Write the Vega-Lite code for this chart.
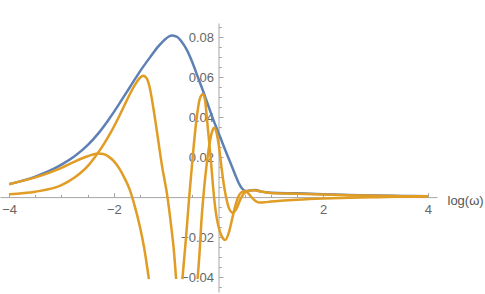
{
  "$schema": "https://vega.github.io/schema/vega-lite/v6.json",
  "width": 437,
  "height": 269,
  "autosize": {"type": "none"},
  "padding": {"left": 0, "top": 23, "right": 48, "bottom": 2},
  "background": "white",
  "config": {
    "view": {"stroke": null},
    "axis": {"grid": false, "labelFont": "Liberation Sans", "titleFont": "Liberation Sans", "labelFontSize": 13, "labelColor": "#666666", "domainColor": "#a6a6a6", "tickColor": "#a6a6a6", "tickWidth": 1, "domainWidth": 1}
  },
  "datasets": {
    "curves": [
      {"s":"E","seg":"E","x":-4.0,"y":0.0065},{"s":"E","seg":"E","x":-3.5,"y":0.0103},{"s":"E","seg":"E","x":-3.0,"y":0.0163},{"s":"E","seg":"E","x":-2.75,"y":0.0205},{"s":"E","seg":"E","x":-2.5,"y":0.026},{"s":"E","seg":"E","x":-2.3,"y":0.0318},{"s":"E","seg":"E","x":-2.1,"y":0.0388},{"s":"E","seg":"E","x":-1.9,"y":0.0466},{"s":"E","seg":"E","x":-1.7,"y":0.0548},{"s":"E","seg":"E","x":-1.5,"y":0.063},{"s":"E","seg":"E","x":-1.3,"y":0.0703},{"s":"E","seg":"E","x":-1.15,"y":0.0755},{"s":"E","seg":"E","x":-1.0,"y":0.0795},{"s":"E","seg":"E","x":-0.9,"y":0.081},{"s":"E","seg":"E","x":-0.8,"y":0.0804},{"s":"E","seg":"E","x":-0.7,"y":0.0777},{"s":"E","seg":"E","x":-0.6,"y":0.0735},{"s":"E","seg":"E","x":-0.5,"y":0.0675},{"s":"E","seg":"E","x":-0.4,"y":0.0605},{"s":"E","seg":"E","x":-0.3,"y":0.0535},{"s":"E","seg":"E","x":-0.2,"y":0.0462},{"s":"E","seg":"E","x":-0.1,"y":0.0388},{"s":"E","seg":"E","x":0.0,"y":0.0322},{"s":"E","seg":"E","x":0.1,"y":0.0255},{"s":"E","seg":"E","x":0.2,"y":0.019},{"s":"E","seg":"E","x":0.3,"y":0.0125},{"s":"E","seg":"E","x":0.4,"y":0.0064},{"s":"E","seg":"E","x":0.45,"y":0.0043},{"s":"E","seg":"E","x":0.52,"y":0.0031},{"s":"E","seg":"E","x":0.6,"y":0.0033},{"s":"E","seg":"E","x":0.7,"y":0.0036},{"s":"E","seg":"E","x":0.8,"y":0.0029},{"s":"E","seg":"E","x":0.9,"y":0.0024},{"s":"E","seg":"E","x":1.0,"y":0.0022},{"s":"E","seg":"E","x":1.5,"y":0.0019},{"s":"E","seg":"E","x":2.0,"y":0.0015},{"s":"E","seg":"E","x":2.5,"y":0.0011},{"s":"E","seg":"E","x":3.0,"y":0.0008},{"s":"E","seg":"E","x":3.5,"y":0.0006},{"s":"E","seg":"E","x":4.0,"y":0.0005},

      {"s":"A","seg":"A1","x":-4.0,"y":0.0065},{"s":"A","seg":"A1","x":-3.5,"y":0.0099},{"s":"A","seg":"A1","x":-3.0,"y":0.0147},{"s":"A","seg":"A1","x":-2.75,"y":0.0178},{"s":"A","seg":"A1","x":-2.5,"y":0.0205},{"s":"A","seg":"A1","x":-2.3,"y":0.0219},{"s":"A","seg":"A1","x":-2.2,"y":0.0216},{"s":"A","seg":"A1","x":-2.1,"y":0.0203},{"s":"A","seg":"A1","x":-2.0,"y":0.018},{"s":"A","seg":"A1","x":-1.9,"y":0.0145},{"s":"A","seg":"A1","x":-1.8,"y":0.0098},{"s":"A","seg":"A1","x":-1.7,"y":0.004},{"s":"A","seg":"A1","x":-1.6,"y":-0.0045},{"s":"A","seg":"A1","x":-1.5,"y":-0.015},{"s":"A","seg":"A1","x":-1.42,"y":-0.0255},{"s":"A","seg":"A1","x":-1.33,"y":-0.041},

      {"s":"A","seg":"A2","x":-0.69,"y":-0.041},{"s":"A","seg":"A2","x":-0.62,"y":-0.02},{"s":"A","seg":"A2","x":-0.56,"y":0.0},{"s":"A","seg":"A2","x":-0.49,"y":0.021},{"s":"A","seg":"A2","x":-0.42,"y":0.039},{"s":"A","seg":"A2","x":-0.36,"y":0.049},{"s":"A","seg":"A2","x":-0.3,"y":0.0515},{"s":"A","seg":"A2","x":-0.26,"y":0.049},{"s":"A","seg":"A2","x":-0.22,"y":0.039},{"s":"A","seg":"A2","x":-0.18,"y":0.028},{"s":"A","seg":"A2","x":-0.14,"y":0.0165},{"s":"A","seg":"A2","x":-0.085,"y":0.0},{"s":"A","seg":"A2","x":-0.04,"y":-0.0095},{"s":"A","seg":"A2","x":0.0,"y":-0.0147},{"s":"A","seg":"A2","x":0.06,"y":-0.0195},{"s":"A","seg":"A2","x":0.13,"y":-0.0214},{"s":"A","seg":"A2","x":0.2,"y":-0.0175},{"s":"A","seg":"A2","x":0.26,"y":-0.011},{"s":"A","seg":"A2","x":0.32,"y":-0.0045},{"s":"A","seg":"A2","x":0.38,"y":0.0003},{"s":"A","seg":"A2","x":0.44,"y":0.0024},{"s":"A","seg":"A2","x":0.5,"y":0.003},{"s":"A","seg":"A2","x":0.56,"y":0.0022},{"s":"A","seg":"A2","x":0.62,"y":0.0003},{"s":"A","seg":"A2","x":0.7,"y":-0.0018},{"s":"A","seg":"A2","x":0.78,"y":-0.0027},{"s":"A","seg":"A2","x":0.88,"y":-0.0026},{"s":"A","seg":"A2","x":1.0,"y":-0.0022},{"s":"A","seg":"A2","x":1.25,"y":-0.0017},{"s":"A","seg":"A2","x":1.5,"y":-0.0013},{"s":"A","seg":"A2","x":2.0,"y":-0.0007},{"s":"A","seg":"A2","x":2.5,"y":-0.0003},{"s":"A","seg":"A2","x":3.0,"y":0.0},{"s":"A","seg":"A2","x":3.5,"y":0.0002},{"s":"A","seg":"A2","x":4.0,"y":0.0003},

      {"s":"B","seg":"B1","x":-4.0,"y":0.0015},{"s":"B","seg":"B1","x":-3.5,"y":0.0027},{"s":"B","seg":"B1","x":-3.0,"y":0.006},{"s":"B","seg":"B1","x":-2.75,"y":0.0098},{"s":"B","seg":"B1","x":-2.5,"y":0.0155},{"s":"B","seg":"B1","x":-2.35,"y":0.0205},{"s":"B","seg":"B1","x":-2.2,"y":0.0262},{"s":"B","seg":"B1","x":-2.05,"y":0.0328},{"s":"B","seg":"B1","x":-1.9,"y":0.0404},{"s":"B","seg":"B1","x":-1.75,"y":0.0486},{"s":"B","seg":"B1","x":-1.6,"y":0.0561},{"s":"B","seg":"B1","x":-1.5,"y":0.0598},{"s":"B","seg":"B1","x":-1.44,"y":0.0608},{"s":"B","seg":"B1","x":-1.38,"y":0.0598},{"s":"B","seg":"B1","x":-1.32,"y":0.0555},{"s":"B","seg":"B1","x":-1.25,"y":0.0455},{"s":"B","seg":"B1","x":-1.18,"y":0.0335},{"s":"B","seg":"B1","x":-1.08,"y":0.0158},{"s":"B","seg":"B1","x":-0.975,"y":0.0},{"s":"B","seg":"B1","x":-0.9,"y":-0.0155},{"s":"B","seg":"B1","x":-0.85,"y":-0.0275},{"s":"B","seg":"B1","x":-0.81,"y":-0.041},

      {"s":"B","seg":"B2","x":-0.4,"y":-0.041},{"s":"B","seg":"B2","x":-0.36,"y":-0.027},{"s":"B","seg":"B2","x":-0.33,"y":-0.0135},{"s":"B","seg":"B2","x":-0.29,"y":0.0},{"s":"B","seg":"B2","x":-0.23,"y":0.0155},{"s":"B","seg":"B2","x":-0.17,"y":0.027},{"s":"B","seg":"B2","x":-0.12,"y":0.033},{"s":"B","seg":"B2","x":-0.085,"y":0.0348},{"s":"B","seg":"B2","x":-0.05,"y":0.0335},{"s":"B","seg":"B2","x":0.0,"y":0.027},{"s":"B","seg":"B2","x":0.05,"y":0.0165},{"s":"B","seg":"B2","x":0.1,"y":0.0065},{"s":"B","seg":"B2","x":0.145,"y":0.0},{"s":"B","seg":"B2","x":0.2,"y":-0.0055},{"s":"B","seg":"B2","x":0.27,"y":-0.0078},{"s":"B","seg":"B2","x":0.34,"y":-0.006},{"s":"B","seg":"B2","x":0.42,"y":-0.001},{"s":"B","seg":"B2","x":0.5,"y":0.0022},{"s":"B","seg":"B2","x":0.6,"y":0.0033},{"s":"B","seg":"B2","x":0.68,"y":0.0035},{"s":"B","seg":"B2","x":0.78,"y":0.003},{"s":"B","seg":"B2","x":0.9,"y":0.0024},{"s":"B","seg":"B2","x":1.0,"y":0.0021},{"s":"B","seg":"B2","x":1.5,"y":0.0017},{"s":"B","seg":"B2","x":2.0,"y":0.0013},{"s":"B","seg":"B2","x":2.5,"y":0.001},{"s":"B","seg":"B2","x":3.0,"y":0.0007},{"s":"B","seg":"B2","x":3.5,"y":0.0005},{"s":"B","seg":"B2","x":4.0,"y":0.0004}
    ]
  },
  "layer": [
    {
      "data": {"name": "curves"},
      "encoding": {
        "x": {"field": "x", "type": "quantitative",
          "scale": {"domain": [-4.175, 4.175], "nice": false, "zero": false},
          "axis": {"orient": "bottom", "offset": -94.9, "values": [-4, -2, 2, 4], "format": "d", "ticks": false, "labelPadding": 6, "labelFlush": false,
            "title": "log(ω)", "titleX": 447, "titleY": 3, "titleAlign": "left", "titleBaseline": "middle", "titleAnchor": null, "titleFontWeight": "normal", "titleFontSize": 13, "titleColor": "#555555"}},
        "y": {"field": "y", "type": "quantitative",
          "scale": {"domain": [-0.0475, 0.0872], "nice": false, "zero": false},
          "axis": {"orient": "left", "offset": -218.5, "values": [-0.04, -0.02, 0.02, 0.04, 0.06, 0.08], "format": ".2f", "ticks": false, "labelPadding": 5, "labelFlush": false, "title": null}},
        "detail": {"field": "seg"}
      },
      "layer": [
        {"transform": [{"filter": "datum.s === 'E'"}],
         "mark": {"type": "line", "color": "#5E81B5", "strokeWidth": 2.5, "interpolate": "monotone"}},
        {"transform": [{"filter": "datum.s !== 'E'"}],
         "mark": {"type": "line", "color": "#E19C24", "strokeWidth": 2.5, "interpolate": "monotone"}}
      ]
    },
    {
      "data": {"name": "curves"},
      "mark": {"type": "line", "opacity": 0},
      "encoding": {
        "x": {"field": "x", "type": "quantitative",
          "scale": {"domain": [-4.175, 4.175], "nice": false, "zero": false},
          "axis": {"orient": "top", "offset": -174.1, "values": [-4, -3.5, -3, -2.5, -2, -1.5, -1, -0.5, 0.5, 1, 1.5, 2, 2.5, 3, 3.5, 4], "labels": false, "domain": false, "title": null,
            "tickSize": {"condition": {"test": "datum.value % 2 === 0", "value": 4.5}, "value": 2.8}}},
        "y": {"field": "y", "type": "quantitative",
          "scale": {"domain": [-0.0475, 0.0872], "nice": false, "zero": false},
          "axis": {"orient": "right", "offset": -218.5, "values": [-0.045, -0.04, -0.035, -0.03, -0.025, -0.02, -0.015, -0.01, -0.005, 0.005, 0.01, 0.015, 0.02, 0.025, 0.03, 0.035, 0.04, 0.045, 0.05, 0.055, 0.06, 0.065, 0.07, 0.075, 0.08, 0.085], "labels": false, "domain": false, "title": null,
            "tickSize": {"condition": {"test": "abs(round(datum.value * 1000)) % 20 === 0", "value": 4.5}, "value": 2.8}}},
        "detail": {"field": "seg"}
      }
    }
  ],
  "resolve": {"scale": {"x": "independent", "y": "independent"}, "axis": {"x": "independent", "y": "independent"}}
}
